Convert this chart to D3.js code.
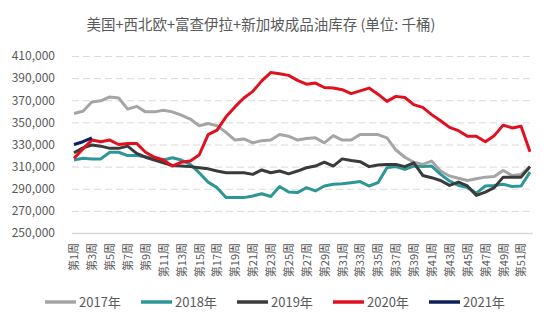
<!DOCTYPE html>
<html>
  <head>
    <meta charset="utf-8" />
    <script src="https://d3js.org/d3.v7.min.js"></script>
  </head>
  <style>
    body {
      margin: 0;
      background: white;
    }
    text {
      font-family: "Noto Sans CJK SC", "Noto Sans", sans-serif;
    }
  </style>
  <body>
    <svg width="550" height="330"></svg>
    <script>
      // data (thousand barrels), weeks 1..52
      var weeks = d3.range(1, 53);
      var yTicks = [250000, 270000, 290000, 310000, 330000, 350000, 370000, 390000, 410000];

      var s2017 = [
        358000, 360000, 368500, 369500, 373000, 372000, 362000, 364500, 359500, 359500,
        361000, 359500, 356500, 353000, 347000, 349000, 347000, 341000, 334000, 335000,
        331500, 333500, 334000, 339000, 337500, 334000, 335500, 336000, 331500, 338000,
        334000, 334000, 339000, 339000, 339000, 336000, 325000, 318500, 314000, 312000,
        315000, 306000, 301500, 299500, 297500, 299000, 300500, 301000, 306500, 302000,
        303000, 310000,
      ];
      var s2018 = [
        316000, 317500, 317000, 317000, 323000, 323000, 320000, 320000, 319000, 317000,
        316000, 318000, 316000, 312000, 304500, 296000, 291000, 282000, 282000, 282000,
        283500, 285500, 283000, 292000, 287000, 286500, 291000, 288000, 292500, 294000,
        294500, 295500, 296500, 292500, 295500, 309000, 310000, 307500, 310500, 310000,
        310500, 303000, 297000, 293000, 291000, 286000, 292500, 293000, 294000, 292000,
        292500, 305000,
      ];
      var s2019 = [
        322500, 327000, 329500, 328500, 326500, 326500, 328500, 322000, 318500, 316000,
        313500, 311000, 310500, 310000, 309000, 308000, 306000, 304500, 304500, 304500,
        303000, 307000, 304500, 306000, 303500, 306000, 309000, 310500, 314000, 310500,
        317000, 315500, 314500, 310000, 311500, 312000, 312000, 310000, 313500, 302000,
        300000, 297500, 293000, 296000, 292500, 284000, 287000, 291000, 300500, 300500,
        300500, 310000,
      ];
      var s2020 = [
        317500, 326000, 334000, 332500, 334000, 330000, 331000, 331000, 323000, 318500,
        316000, 310500, 314000, 315000, 320500, 339000, 343000, 355000, 364000, 372000,
        378000, 387500, 395000, 394000, 392500, 388000, 384500, 385500, 381500, 381000,
        379500, 376000, 378500, 381000, 375500, 369000, 373500, 372500, 366000, 363500,
        357000, 351500, 345500, 342500, 337500, 337500, 332500, 338000, 347500, 345000,
        346500, 323500,
      ];
      var s2021 = [330000, 332500, 336000];

      var seriesNames = ["2017年", "2018年", "2019年", "2020年", "2021年"];
      var seriesData = [s2017, s2018, s2019, s2020, s2021];
      var colors = ["#A5A5A5", "#2F9698", "#3A3A3A", "#E0101E", "#0E1F5B"];

      var svg = d3.select("svg");
      var plotLeft = 72,
        plotRight = 533,
        plotTop = 56,
        plotBottom = 233;

      var xScale = d3
        .scalePoint()
        .domain(weeks)
        .range([plotLeft + 2, plotRight - 3]);
      var yScale = d3
        .scaleLinear()
        .domain([250000, 410000])
        .range([plotBottom, plotTop]);

      // title
      svg
        .append("text")
        .attr("x", 261)
        .attr("y", 30)
        .attr("text-anchor", "middle")
        .style("font-size", "14.5px")
        .style("fill", "#595959")
        .text("美国+西北欧+富查伊拉+新加坡成品油库存 (单位: 千桶)");

      // y grid + labels
      var yAxis = svg
        .append("g")
        .attr("transform", "translate(" + plotLeft + ",0)")
        .call(
          d3
            .axisLeft(yScale)
            .tickValues(yTicks)
            .tickSize(-(plotRight - plotLeft))
            .tickPadding(17)
            .tickFormat(d3.format(","))
        );
      yAxis.select(".domain").remove();
      yAxis
        .selectAll("line")
        .attr("stroke", "#D9D9D9")
        .attr("stroke-dasharray", function (d) {
          return d === 250000 ? null : "7,4";
        })
        .attr("stroke-width", function (d) {
          return d === 250000 ? 1.5 : 1;
        });
      yAxis
        .selectAll("text")
        .style("font-size", "12px")
        .style("fill", "#595959");

      // x labels (odd weeks, rotated)
      var xAxis = svg
        .append("g")
        .attr("transform", "translate(0," + plotBottom + ")")
        .call(
          d3
            .axisBottom(xScale)
            .tickValues(
              weeks.filter(function (d) {
                return d % 2 === 1;
              })
            )
            .tickSize(0)
            .tickFormat(function (d) {
              return "第" + d + "周";
            })
        );
      xAxis.select(".domain").remove();
      xAxis
        .selectAll("text")
        .attr("transform", "rotate(-90)")
        .attr("x", -10)
        .attr("y", 0)
        .attr("dy", "0.35em")
        .attr("text-anchor", "end")
        .style("font-size", "11px")
        .style("fill", "#595959");

      // lines
      var line = d3
        .line()
        .x(function (d, i) {
          return xScale(weeks[i]);
        })
        .y(function (d) {
          return yScale(d);
        });

      seriesData.forEach(function (s, k) {
        svg
          .append("path")
          .datum(s)
          .attr("d", line)
          .style("fill", "none")
          .style("stroke", colors[k])
          .style("stroke-width", 3)
          .style("stroke-linejoin", "round");
      });

      // legend
      var legendX = [45, 141, 237, 333, 429];
      var legend = svg
        .append("g")
        .selectAll("g")
        .data(seriesNames)
        .enter()
        .append("g")
        .attr("transform", function (d, i) {
          return "translate(" + legendX[i] + ",302)";
        });
      legend
        .append("line")
        .attr("x1", 0)
        .attr("x2", 31)
        .attr("stroke", function (d, i) {
          return colors[i];
        })
        .attr("stroke-width", 3.5);
      legend
        .append("text")
        .attr("x", 34)
        .attr("dy", "0.35em")
        .style("font-size", "13px")
        .style("fill", "#595959")
        .text(function (d) {
          return d;
        });
    </script>
  </body>
</html>
